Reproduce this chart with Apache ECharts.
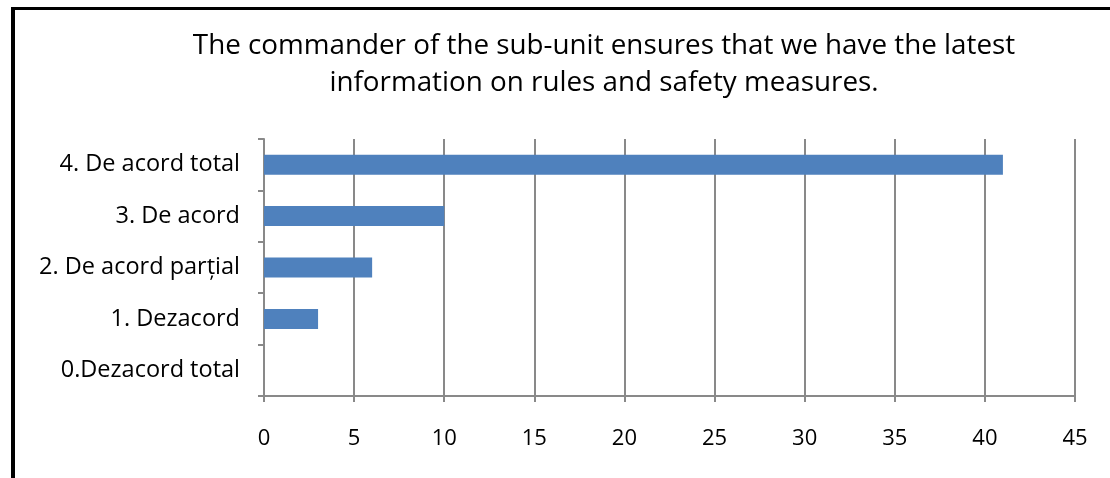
<!DOCTYPE html>
<html>
<head>
<meta charset="utf-8">
<script src="https://cdn.jsdelivr.net/npm/echarts@6/dist/echarts.min.js"></script>
<style>
  html, body { margin: 0; padding: 0; background: #fff; }
  #chart { width: 1110px; height: 478px; }
  #frame {
    position: absolute; left: 11px; top: 7px; right: 0; bottom: 0;
    border-left: 4px solid #000; border-top: 3px solid #000;
    pointer-events: none;
  }
</style>
</head>
<body>
<div id="chart"></div>
<div id="frame"></div>
<script>
// answer categories, bottom to top as the axis draws them
const categories = ['0.Dezacord total', '1. Dezacord', '2. De acord parțial', '3. De acord', '4. De acord total'];
const counts = [0, 3, 6, 10, 41];
const titleText = 'The commander of the sub-unit ensures that we have the latest\ninformation on rules and safety measures.';

const FONT = 'Open Sans';
const GREY = '#898989';

const chart = echarts.init(document.getElementById('chart'));
chart.setOption({
  animation: false,
  title: {
    text: titleText,
    left: 599,
    textAlign: 'center',
    top: 23,
    textStyle: { fontFamily: FONT, fontSize: 27.8, fontWeight: 'normal', color: '#000', lineHeight: 37 },
  },
  grid: { left: 264, right: 35, top: 139, bottom: 82 },
  xAxis: {
    type: 'value',
    min: 0,
    max: 45,
    interval: 5,
    axisLine: { show: true, lineStyle: { color: GREY, width: 2 } },
    axisTick: { show: true, length: 6, lineStyle: { color: GREY, width: 2 } },
    axisLabel: { margin: 32, fontFamily: FONT, fontSize: 22, color: '#000' },
    splitLine: { show: true, lineStyle: { color: GREY, width: 2 } },
  },
  yAxis: {
    type: 'category',
    data: categories,
    axisLine: { show: true, lineStyle: { color: GREY, width: 2 } },
    axisTick: { show: true, length: 6, lineStyle: { color: GREY, width: 2 } },
    axisLabel: { margin: 24, fontFamily: FONT, fontSize: 23.5, color: '#000' },
  },
  series: [{
    type: 'bar',
    data: counts,
    barWidth: 20,
    itemStyle: { color: '#4F81BD' },
  }],
});
</script>
</body>
</html>
